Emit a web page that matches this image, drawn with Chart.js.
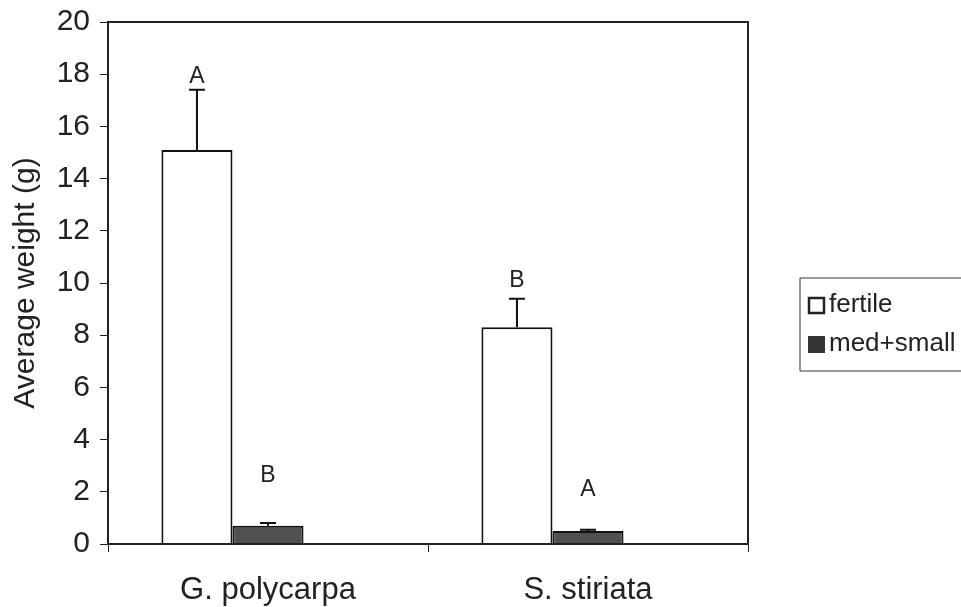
<!DOCTYPE html>
<html><head><meta charset="utf-8">
<script src="https://cdn.jsdelivr.net/npm/chart.js@4"></script>
<style>html,body{margin:0;padding:0;background:#fff}#wrap{width:961px;height:607px}</style>
</head><body><div id="wrap"><canvas id="c" width="961" height="607"></canvas></div>
<script>
const categories = ["G. polycarpa", "S. stiriata"];
const seriesNames = ["fertile", "med+small"];
const fertile = [15.1, 8.3];
const fertileErr = [2.3, 1.1];
const medSmall = [0.7, 0.5];
const medSmallErr = [0.1, 0.05];
const emptySeries = [0, 0];
const fertileLetters = ["A", "B"];
const fertileLetterY = [17.9, 10.1];
const medSmallLetters = ["B", "A"];
const medSmallLetterY = [2.6, 2.1];
const yTicks = [0, 2, 4, 6, 8, 10, 12, 14, 16, 18, 20];

const FONT = "'Liberation Sans', Arial, sans-serif";

const overlay = {
  id: 'overlay',
  afterDatasetsDraw(chart) {
    const ctx = chart.ctx, a = chart.chartArea, y = chart.scales.y;
    ctx.save();
    const errs = [fertileErr, medSmallErr];
    const vals = [fertile, medSmall];
    ctx.strokeStyle = '#111'; ctx.lineWidth = 2;
    [0, 1].forEach(d => {
      const meta = chart.getDatasetMeta(d);
      meta.data.forEach((bar, i) => {
        const top = y.getPixelForValue(vals[d][i] + errs[d][i]);
        const base = y.getPixelForValue(vals[d][i]);
        ctx.beginPath();
        ctx.moveTo(bar.x, base); ctx.lineTo(bar.x, top);
        ctx.moveTo(bar.x - 8, top); ctx.lineTo(bar.x + 8, top);
        ctx.stroke();
      });
    });
    ctx.fillStyle = '#222'; ctx.font = '23px ' + FONT;
    ctx.textAlign = 'center'; ctx.textBaseline = 'middle';
    const letters = [[fertileLetters, fertileLetterY], [medSmallLetters, medSmallLetterY]];
    [0, 1].forEach(d => {
      const meta = chart.getDatasetMeta(d);
      meta.data.forEach((bar, i) => {
        ctx.fillText(letters[d][0][i], bar.x, y.getPixelForValue(letters[d][1][i]));
      });
    });
    ctx.strokeStyle = '#222'; ctx.lineWidth = 2;
    ctx.strokeRect(a.left, a.top, a.right - a.left, a.bottom - a.top);
    // legend
    ctx.lineWidth = 1; ctx.strokeStyle = '#333';
    ctx.beginPath();
    ctx.moveTo(963, 278); ctx.lineTo(800, 278); ctx.lineTo(800, 371); ctx.lineTo(963, 371);
    ctx.stroke();
    ctx.font = '26px ' + FONT; ctx.textAlign = 'left'; ctx.textBaseline = 'middle';
    ctx.lineWidth = 2.5; ctx.strokeStyle = '#222';
    ctx.fillStyle = '#fff'; ctx.fillRect(809, 298, 15, 15);
    ctx.strokeRect(809, 298, 15, 15);
    ctx.fillStyle = '#222'; ctx.fillText(seriesNames[0], 829, 305);
    ctx.fillStyle = '#333'; ctx.fillRect(808, 336, 17, 17);
    ctx.fillStyle = '#222'; ctx.fillText(seriesNames[1], 829, 344);
    ctx.restore();
  }
};

new Chart(document.getElementById('c'), {
  type: 'bar',
  data: {
    labels: categories,
    datasets: [
      { label: seriesNames[0], data: fertile, backgroundColor: '#fff', borderColor: '#111', borderWidth: 2, borderSkipped: 'bottom' },
      { label: seriesNames[1], data: medSmall, backgroundColor: '#505050', borderColor: '#111', borderWidth: 2, borderSkipped: 'bottom' },
      { label: '', data: emptySeries, backgroundColor: '#fff', borderWidth: 0 }
    ]
  },
  plugins: [overlay],
  options: {
    responsive: false, animation: false,
    layout: { padding: { left: 8, right: 213, top: 22, bottom: 0 } },
    plugins: { legend: { display: false }, tooltip: { enabled: false } },
    datasets: { bar: { categoryPercentage: 0.666, barPercentage: 1.0 } },
    scales: {
      x: {
        afterFit: s => { s.height = 63; s.paddingLeft = 0; s.paddingRight = 0; },
        grid: { offset: true, drawOnChartArea: false, drawTicks: true, tickLength: 8, color: '#222', lineWidth: 1 },
        border: { display: true, color: '#222', width: 2 },
        ticks: { color: '#222', font: { size: 31, family: FONT }, padding: 20 }
      },
      y: {
        min: 0, max: 20,
        afterBuildTicks: s => { s.ticks = yTicks.map(v => ({ value: v })); },
        afterFit: s => { s.width = 100; s.paddingTop = 0; s.paddingBottom = 0; },
        grid: { drawOnChartArea: false, drawTicks: true, tickLength: 8, color: '#222', lineWidth: 1 },
        border: { display: true, color: '#222', width: 2 },
        ticks: { color: '#222', font: { size: 30, family: FONT }, padding: 10 },
        title: { display: true, text: 'Average weight (g)', color: '#222', font: { size: 30, family: FONT }, padding: { top: 0, bottom: 12 } }
      }
    }
  }
});
</script></body></html>
